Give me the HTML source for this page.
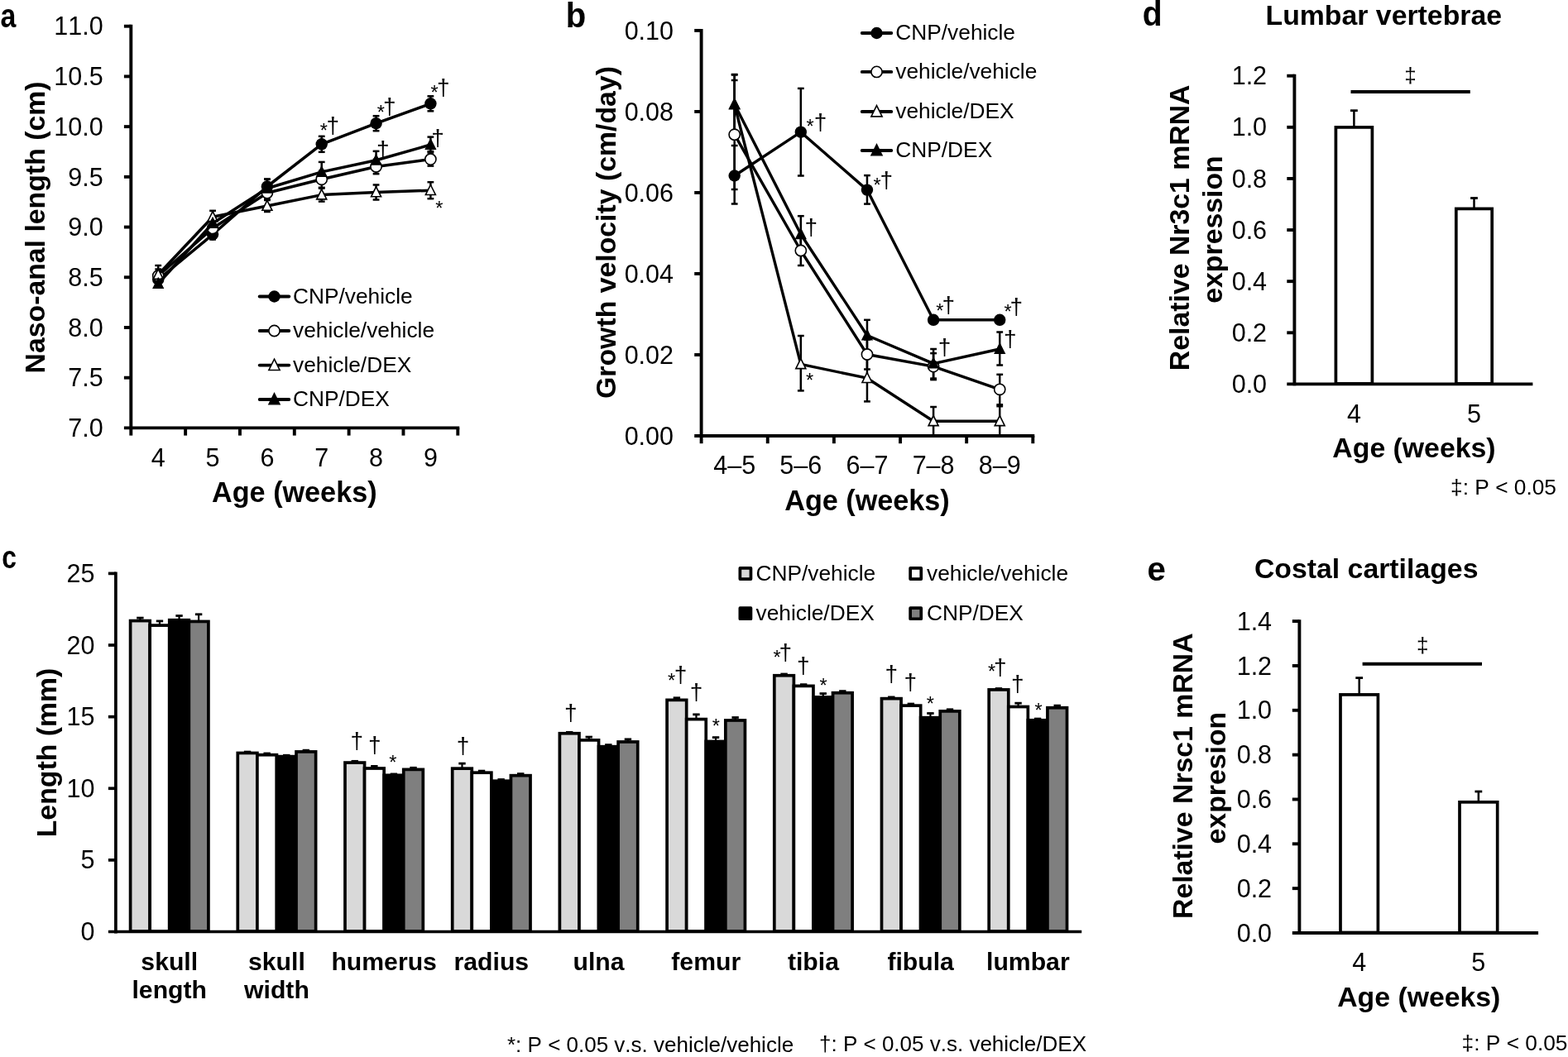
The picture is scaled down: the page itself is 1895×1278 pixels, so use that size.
<!DOCTYPE html>
<html lang="en"><head><meta charset="utf-8"><title>Figure</title>
<style>html,body{margin:0;padding:0;background:#fff}svg{display:block}text{font-family:"Liberation Sans", Arial, Helvetica, sans-serif;fill:#000;font-kerning:none}</style></head><body>
<svg width="1895" height="1278" viewBox="0 0 1895 1278">
<rect width="1895" height="1278" fill="#fff"/>
<g id="panel-a">
<line x1="158.30" y1="29.75" x2="158.30" y2="519.35" stroke="#000" stroke-width="3.9" stroke-linecap="butt"/>
<line x1="149.90" y1="517.40" x2="555.25" y2="517.40" stroke="#000" stroke-width="3.9" stroke-linecap="butt"/>
<line x1="149.90" y1="31.70" x2="158.30" y2="31.70" stroke="#000" stroke-width="3.9" stroke-linecap="butt"/>
<text x="124.70" y="42.40" font-size="30.5" text-anchor="end">11.0</text>
<line x1="149.90" y1="92.41" x2="158.30" y2="92.41" stroke="#000" stroke-width="3.9" stroke-linecap="butt"/>
<text x="124.70" y="103.11" font-size="30.5" text-anchor="end">10.5</text>
<line x1="149.90" y1="153.12" x2="158.30" y2="153.12" stroke="#000" stroke-width="3.9" stroke-linecap="butt"/>
<text x="124.70" y="163.82" font-size="30.5" text-anchor="end">10.0</text>
<line x1="149.90" y1="213.84" x2="158.30" y2="213.84" stroke="#000" stroke-width="3.9" stroke-linecap="butt"/>
<text x="124.70" y="224.54" font-size="30.5" text-anchor="end">9.5</text>
<line x1="149.90" y1="274.55" x2="158.30" y2="274.55" stroke="#000" stroke-width="3.9" stroke-linecap="butt"/>
<text x="124.70" y="285.25" font-size="30.5" text-anchor="end">9.0</text>
<line x1="149.90" y1="335.26" x2="158.30" y2="335.26" stroke="#000" stroke-width="3.9" stroke-linecap="butt"/>
<text x="124.70" y="345.96" font-size="30.5" text-anchor="end">8.5</text>
<line x1="149.90" y1="395.97" x2="158.30" y2="395.97" stroke="#000" stroke-width="3.9" stroke-linecap="butt"/>
<text x="124.70" y="406.67" font-size="30.5" text-anchor="end">8.0</text>
<line x1="149.90" y1="456.69" x2="158.30" y2="456.69" stroke="#000" stroke-width="3.9" stroke-linecap="butt"/>
<text x="124.70" y="467.39" font-size="30.5" text-anchor="end">7.5</text>
<text x="124.70" y="528.10" font-size="30.5" text-anchor="end">7.0</text>
<line x1="158.30" y1="517.40" x2="158.30" y2="526.60" stroke="#000" stroke-width="3.9" stroke-linecap="butt"/>
<line x1="224.13" y1="517.40" x2="224.13" y2="526.60" stroke="#000" stroke-width="3.9" stroke-linecap="butt"/>
<line x1="289.97" y1="517.40" x2="289.97" y2="526.60" stroke="#000" stroke-width="3.9" stroke-linecap="butt"/>
<line x1="355.80" y1="517.40" x2="355.80" y2="526.60" stroke="#000" stroke-width="3.9" stroke-linecap="butt"/>
<line x1="421.63" y1="517.40" x2="421.63" y2="526.60" stroke="#000" stroke-width="3.9" stroke-linecap="butt"/>
<line x1="487.47" y1="517.40" x2="487.47" y2="526.60" stroke="#000" stroke-width="3.9" stroke-linecap="butt"/>
<line x1="553.30" y1="517.40" x2="553.30" y2="526.60" stroke="#000" stroke-width="3.9" stroke-linecap="butt"/>
<text x="191.22" y="563.80" font-size="30.5" text-anchor="middle">4</text>
<text x="257.05" y="563.80" font-size="30.5" text-anchor="middle">5</text>
<text x="322.88" y="563.80" font-size="30.5" text-anchor="middle">6</text>
<text x="388.72" y="563.80" font-size="30.5" text-anchor="middle">7</text>
<text x="454.55" y="563.80" font-size="30.5" text-anchor="middle">8</text>
<text x="520.38" y="563.80" font-size="30.5" text-anchor="middle">9</text>
<text x="355.80" y="607.20" font-size="34.2" text-anchor="middle" font-weight="bold">Age (weeks)</text>
<text x="54.00" y="275.00" font-size="33.8" text-anchor="middle" font-weight="bold" transform="rotate(-90 54.00 275.00)">Naso-anal length (cm)</text>
<line x1="191.22" y1="330.00" x2="191.22" y2="346.00" stroke="#000" stroke-width="2.5" stroke-linecap="butt"/>
<line x1="187.32" y1="330.00" x2="195.12" y2="330.00" stroke="#000" stroke-width="2.5" stroke-linecap="butt"/>
<line x1="187.32" y1="346.00" x2="195.12" y2="346.00" stroke="#000" stroke-width="2.5" stroke-linecap="butt"/>
<line x1="257.05" y1="277.50" x2="257.05" y2="289.50" stroke="#000" stroke-width="2.5" stroke-linecap="butt"/>
<line x1="253.15" y1="277.50" x2="260.95" y2="277.50" stroke="#000" stroke-width="2.5" stroke-linecap="butt"/>
<line x1="253.15" y1="289.50" x2="260.95" y2="289.50" stroke="#000" stroke-width="2.5" stroke-linecap="butt"/>
<line x1="322.88" y1="216.50" x2="322.88" y2="234.50" stroke="#000" stroke-width="2.5" stroke-linecap="butt"/>
<line x1="318.98" y1="216.50" x2="326.78" y2="216.50" stroke="#000" stroke-width="2.5" stroke-linecap="butt"/>
<line x1="318.98" y1="234.50" x2="326.78" y2="234.50" stroke="#000" stroke-width="2.5" stroke-linecap="butt"/>
<line x1="388.72" y1="164.80" x2="388.72" y2="183.80" stroke="#000" stroke-width="2.5" stroke-linecap="butt"/>
<line x1="384.82" y1="164.80" x2="392.62" y2="164.80" stroke="#000" stroke-width="2.5" stroke-linecap="butt"/>
<line x1="384.82" y1="183.80" x2="392.62" y2="183.80" stroke="#000" stroke-width="2.5" stroke-linecap="butt"/>
<line x1="454.55" y1="140.20" x2="454.55" y2="158.20" stroke="#000" stroke-width="2.5" stroke-linecap="butt"/>
<line x1="450.65" y1="140.20" x2="458.45" y2="140.20" stroke="#000" stroke-width="2.5" stroke-linecap="butt"/>
<line x1="450.65" y1="158.20" x2="458.45" y2="158.20" stroke="#000" stroke-width="2.5" stroke-linecap="butt"/>
<line x1="520.38" y1="116.30" x2="520.38" y2="134.30" stroke="#000" stroke-width="2.5" stroke-linecap="butt"/>
<line x1="516.48" y1="116.30" x2="524.28" y2="116.30" stroke="#000" stroke-width="2.5" stroke-linecap="butt"/>
<line x1="516.48" y1="134.30" x2="524.28" y2="134.30" stroke="#000" stroke-width="2.5" stroke-linecap="butt"/>
<line x1="191.22" y1="325.50" x2="191.22" y2="341.50" stroke="#000" stroke-width="2.5" stroke-linecap="butt"/>
<line x1="187.32" y1="325.50" x2="195.12" y2="325.50" stroke="#000" stroke-width="2.5" stroke-linecap="butt"/>
<line x1="187.32" y1="341.50" x2="195.12" y2="341.50" stroke="#000" stroke-width="2.5" stroke-linecap="butt"/>
<line x1="257.05" y1="270.00" x2="257.05" y2="282.00" stroke="#000" stroke-width="2.5" stroke-linecap="butt"/>
<line x1="253.15" y1="270.00" x2="260.95" y2="270.00" stroke="#000" stroke-width="2.5" stroke-linecap="butt"/>
<line x1="253.15" y1="282.00" x2="260.95" y2="282.00" stroke="#000" stroke-width="2.5" stroke-linecap="butt"/>
<line x1="322.88" y1="225.20" x2="322.88" y2="241.20" stroke="#000" stroke-width="2.5" stroke-linecap="butt"/>
<line x1="318.98" y1="225.20" x2="326.78" y2="225.20" stroke="#000" stroke-width="2.5" stroke-linecap="butt"/>
<line x1="318.98" y1="241.20" x2="326.78" y2="241.20" stroke="#000" stroke-width="2.5" stroke-linecap="butt"/>
<line x1="388.72" y1="206.80" x2="388.72" y2="226.80" stroke="#000" stroke-width="2.5" stroke-linecap="butt"/>
<line x1="384.82" y1="206.80" x2="392.62" y2="206.80" stroke="#000" stroke-width="2.5" stroke-linecap="butt"/>
<line x1="384.82" y1="226.80" x2="392.62" y2="226.80" stroke="#000" stroke-width="2.5" stroke-linecap="butt"/>
<line x1="454.55" y1="192.80" x2="454.55" y2="210.20" stroke="#000" stroke-width="2.5" stroke-linecap="butt"/>
<line x1="450.65" y1="192.80" x2="458.45" y2="192.80" stroke="#000" stroke-width="2.5" stroke-linecap="butt"/>
<line x1="450.65" y1="210.20" x2="458.45" y2="210.20" stroke="#000" stroke-width="2.5" stroke-linecap="butt"/>
<line x1="520.38" y1="184.60" x2="520.38" y2="200.60" stroke="#000" stroke-width="2.5" stroke-linecap="butt"/>
<line x1="516.48" y1="184.60" x2="524.28" y2="184.60" stroke="#000" stroke-width="2.5" stroke-linecap="butt"/>
<line x1="516.48" y1="200.60" x2="524.28" y2="200.60" stroke="#000" stroke-width="2.5" stroke-linecap="butt"/>
<line x1="191.22" y1="321.00" x2="191.22" y2="340.00" stroke="#000" stroke-width="2.5" stroke-linecap="butt"/>
<line x1="187.32" y1="321.00" x2="195.12" y2="321.00" stroke="#000" stroke-width="2.5" stroke-linecap="butt"/>
<line x1="187.32" y1="340.00" x2="195.12" y2="340.00" stroke="#000" stroke-width="2.5" stroke-linecap="butt"/>
<line x1="257.05" y1="254.80" x2="257.05" y2="269.80" stroke="#000" stroke-width="2.5" stroke-linecap="butt"/>
<line x1="253.15" y1="254.80" x2="260.95" y2="254.80" stroke="#000" stroke-width="2.5" stroke-linecap="butt"/>
<line x1="253.15" y1="269.80" x2="260.95" y2="269.80" stroke="#000" stroke-width="2.5" stroke-linecap="butt"/>
<line x1="322.88" y1="242.00" x2="322.88" y2="256.00" stroke="#000" stroke-width="2.5" stroke-linecap="butt"/>
<line x1="318.98" y1="242.00" x2="326.78" y2="242.00" stroke="#000" stroke-width="2.5" stroke-linecap="butt"/>
<line x1="318.98" y1="256.00" x2="326.78" y2="256.00" stroke="#000" stroke-width="2.5" stroke-linecap="butt"/>
<line x1="388.72" y1="227.60" x2="388.72" y2="243.60" stroke="#000" stroke-width="2.5" stroke-linecap="butt"/>
<line x1="384.82" y1="227.60" x2="392.62" y2="227.60" stroke="#000" stroke-width="2.5" stroke-linecap="butt"/>
<line x1="384.82" y1="243.60" x2="392.62" y2="243.60" stroke="#000" stroke-width="2.5" stroke-linecap="butt"/>
<line x1="454.55" y1="223.50" x2="454.55" y2="241.50" stroke="#000" stroke-width="2.5" stroke-linecap="butt"/>
<line x1="450.65" y1="223.50" x2="458.45" y2="223.50" stroke="#000" stroke-width="2.5" stroke-linecap="butt"/>
<line x1="450.65" y1="241.50" x2="458.45" y2="241.50" stroke="#000" stroke-width="2.5" stroke-linecap="butt"/>
<line x1="520.38" y1="220.20" x2="520.38" y2="240.20" stroke="#000" stroke-width="2.5" stroke-linecap="butt"/>
<line x1="516.48" y1="220.20" x2="524.28" y2="220.20" stroke="#000" stroke-width="2.5" stroke-linecap="butt"/>
<line x1="516.48" y1="240.20" x2="524.28" y2="240.20" stroke="#000" stroke-width="2.5" stroke-linecap="butt"/>
<line x1="191.22" y1="336.00" x2="191.22" y2="347.00" stroke="#000" stroke-width="2.5" stroke-linecap="butt"/>
<line x1="187.32" y1="336.00" x2="195.12" y2="336.00" stroke="#000" stroke-width="2.5" stroke-linecap="butt"/>
<line x1="187.32" y1="347.00" x2="195.12" y2="347.00" stroke="#000" stroke-width="2.5" stroke-linecap="butt"/>
<line x1="257.05" y1="264.00" x2="257.05" y2="276.00" stroke="#000" stroke-width="2.5" stroke-linecap="butt"/>
<line x1="253.15" y1="264.00" x2="260.95" y2="264.00" stroke="#000" stroke-width="2.5" stroke-linecap="butt"/>
<line x1="253.15" y1="276.00" x2="260.95" y2="276.00" stroke="#000" stroke-width="2.5" stroke-linecap="butt"/>
<line x1="322.88" y1="216.80" x2="322.88" y2="235.80" stroke="#000" stroke-width="2.5" stroke-linecap="butt"/>
<line x1="318.98" y1="216.80" x2="326.78" y2="216.80" stroke="#000" stroke-width="2.5" stroke-linecap="butt"/>
<line x1="318.98" y1="235.80" x2="326.78" y2="235.80" stroke="#000" stroke-width="2.5" stroke-linecap="butt"/>
<line x1="388.72" y1="195.90" x2="388.72" y2="215.90" stroke="#000" stroke-width="2.5" stroke-linecap="butt"/>
<line x1="384.82" y1="195.90" x2="392.62" y2="195.90" stroke="#000" stroke-width="2.5" stroke-linecap="butt"/>
<line x1="384.82" y1="215.90" x2="392.62" y2="215.90" stroke="#000" stroke-width="2.5" stroke-linecap="butt"/>
<line x1="454.55" y1="182.80" x2="454.55" y2="201.80" stroke="#000" stroke-width="2.5" stroke-linecap="butt"/>
<line x1="450.65" y1="182.80" x2="458.45" y2="182.80" stroke="#000" stroke-width="2.5" stroke-linecap="butt"/>
<line x1="450.65" y1="201.80" x2="458.45" y2="201.80" stroke="#000" stroke-width="2.5" stroke-linecap="butt"/>
<line x1="520.38" y1="165.60" x2="520.38" y2="183.00" stroke="#000" stroke-width="2.5" stroke-linecap="butt"/>
<line x1="516.48" y1="165.60" x2="524.28" y2="165.60" stroke="#000" stroke-width="2.5" stroke-linecap="butt"/>
<line x1="516.48" y1="183.00" x2="524.28" y2="183.00" stroke="#000" stroke-width="2.5" stroke-linecap="butt"/>
<polyline points="191.22,338.00 257.05,283.50 322.88,225.50 388.72,174.30 454.55,149.20 520.38,125.30" fill="none" stroke="#000" stroke-width="3.5" stroke-linejoin="round" stroke-linecap="round"/>
<circle cx="191.22" cy="338.00" r="7.20" fill="#000"/>
<circle cx="257.05" cy="283.50" r="7.20" fill="#000"/>
<circle cx="322.88" cy="225.50" r="7.20" fill="#000"/>
<circle cx="388.72" cy="174.30" r="7.20" fill="#000"/>
<circle cx="454.55" cy="149.20" r="7.20" fill="#000"/>
<circle cx="520.38" cy="125.30" r="7.20" fill="#000"/>
<polyline points="191.22,333.50 257.05,276.00 322.88,233.20 388.72,216.80 454.55,201.50 520.38,192.60" fill="none" stroke="#000" stroke-width="3.5" stroke-linejoin="round" stroke-linecap="round"/>
<circle cx="191.22" cy="333.50" r="6.60" fill="#fff" stroke="#000" stroke-width="1.6"/>
<circle cx="257.05" cy="276.00" r="6.60" fill="#fff" stroke="#000" stroke-width="1.6"/>
<circle cx="322.88" cy="233.20" r="6.60" fill="#fff" stroke="#000" stroke-width="1.6"/>
<circle cx="388.72" cy="216.80" r="6.60" fill="#fff" stroke="#000" stroke-width="1.6"/>
<circle cx="454.55" cy="201.50" r="6.60" fill="#fff" stroke="#000" stroke-width="1.6"/>
<circle cx="520.38" cy="192.60" r="6.60" fill="#fff" stroke="#000" stroke-width="1.6"/>
<polyline points="191.22,332.00 257.05,262.30 322.88,249.00 388.72,235.60 454.55,232.50 520.38,230.20" fill="none" stroke="#000" stroke-width="3.5" stroke-linejoin="round" stroke-linecap="round"/>
<polygon points="191.22,325.30 197.22,337.30 185.22,337.30" fill="#fff" stroke="#000" stroke-width="1.6" stroke-linejoin="miter"/>
<polygon points="257.05,255.60 263.05,267.60 251.05,267.60" fill="#fff" stroke="#000" stroke-width="1.6" stroke-linejoin="miter"/>
<polygon points="322.88,242.30 328.88,254.30 316.88,254.30" fill="#fff" stroke="#000" stroke-width="1.6" stroke-linejoin="miter"/>
<polygon points="388.72,228.90 394.72,240.90 382.72,240.90" fill="#fff" stroke="#000" stroke-width="1.6" stroke-linejoin="miter"/>
<polygon points="454.55,225.80 460.55,237.80 448.55,237.80" fill="#fff" stroke="#000" stroke-width="1.6" stroke-linejoin="miter"/>
<polygon points="520.38,223.50 526.38,235.50 514.38,235.50" fill="#fff" stroke="#000" stroke-width="1.6" stroke-linejoin="miter"/>
<polyline points="191.22,343.00 257.05,270.00 322.88,227.80 388.72,207.90 454.55,193.80 520.38,175.00" fill="none" stroke="#000" stroke-width="3.5" stroke-linejoin="round" stroke-linecap="round"/>
<polygon points="191.22,336.30 197.22,348.30 185.22,348.30" fill="#000" stroke="#000" stroke-width="1.4" stroke-linejoin="miter"/>
<polygon points="257.05,263.30 263.05,275.30 251.05,275.30" fill="#000" stroke="#000" stroke-width="1.4" stroke-linejoin="miter"/>
<polygon points="322.88,221.10 328.88,233.10 316.88,233.10" fill="#000" stroke="#000" stroke-width="1.4" stroke-linejoin="miter"/>
<polygon points="388.72,201.20 394.72,213.20 382.72,213.20" fill="#000" stroke="#000" stroke-width="1.4" stroke-linejoin="miter"/>
<polygon points="454.55,187.10 460.55,199.10 448.55,199.10" fill="#000" stroke="#000" stroke-width="1.4" stroke-linejoin="miter"/>
<polygon points="520.38,168.30 526.38,180.30 514.38,180.30" fill="#000" stroke="#000" stroke-width="1.4" stroke-linejoin="miter"/>
<line x1="313.70" y1="358.50" x2="349.30" y2="358.50" stroke="#000" stroke-width="3.8" stroke-linecap="round"/>
<circle cx="331.50" cy="358.50" r="7.20" fill="#000"/>
<text x="354.00" y="366.70" font-size="26.3" text-anchor="start">CNP/vehicle</text>
<line x1="313.70" y1="400.00" x2="349.30" y2="400.00" stroke="#000" stroke-width="3.8" stroke-linecap="round"/>
<circle cx="331.50" cy="400.00" r="6.60" fill="#fff" stroke="#000" stroke-width="1.6"/>
<text x="354.00" y="408.20" font-size="26.3" text-anchor="start">vehicle/vehicle</text>
<line x1="313.70" y1="441.60" x2="349.30" y2="441.60" stroke="#000" stroke-width="3.8" stroke-linecap="round"/>
<polygon points="331.50,434.23 338.10,447.43 324.90,447.43" fill="#fff" stroke="#000" stroke-width="1.6" stroke-linejoin="miter"/>
<text x="354.00" y="449.80" font-size="26.3" text-anchor="start">vehicle/DEX</text>
<line x1="313.70" y1="483.00" x2="349.30" y2="483.00" stroke="#000" stroke-width="3.8" stroke-linecap="round"/>
<polygon points="331.50,475.63 338.10,488.83 324.90,488.83" fill="#000" stroke="#000" stroke-width="1.4" stroke-linejoin="miter"/>
<text x="354.00" y="491.20" font-size="26.3" text-anchor="start">CNP/DEX</text>
<text x="391.30" y="165.94" font-size="23.5" text-anchor="middle">*</text>
<text x="402.30" y="161.30" font-size="28" text-anchor="middle">†</text>
<text x="460.30" y="143.64" font-size="23.5" text-anchor="middle">*</text>
<text x="470.90" y="138.20" font-size="28" text-anchor="middle">†</text>
<text x="525.10" y="120.14" font-size="23.5" text-anchor="middle">*</text>
<text x="535.70" y="115.00" font-size="28" text-anchor="middle">†</text>
<text x="462.90" y="190.10" font-size="28" text-anchor="middle">†</text>
<text x="529.10" y="175.80" font-size="28" text-anchor="middle">†</text>
<text x="530.80" y="259.84" font-size="23.5" text-anchor="middle">*</text>
<text transform="translate(0.51 33.11) scale(0.853 1)" font-size="39.79" font-weight="bold">a</text>
</g>
<g id="panel-b">
<line x1="847.60" y1="34.95" x2="847.60" y2="528.95" stroke="#000" stroke-width="3.9" stroke-linecap="butt"/>
<line x1="839.20" y1="527.00" x2="1250.25" y2="527.00" stroke="#000" stroke-width="3.9" stroke-linecap="butt"/>
<line x1="839.20" y1="36.90" x2="847.60" y2="36.90" stroke="#000" stroke-width="3.9" stroke-linecap="butt"/>
<text x="814.00" y="47.60" font-size="30.5" text-anchor="end">0.10</text>
<line x1="839.20" y1="134.92" x2="847.60" y2="134.92" stroke="#000" stroke-width="3.9" stroke-linecap="butt"/>
<text x="814.00" y="145.62" font-size="30.5" text-anchor="end">0.08</text>
<line x1="839.20" y1="232.94" x2="847.60" y2="232.94" stroke="#000" stroke-width="3.9" stroke-linecap="butt"/>
<text x="814.00" y="243.64" font-size="30.5" text-anchor="end">0.06</text>
<line x1="839.20" y1="330.96" x2="847.60" y2="330.96" stroke="#000" stroke-width="3.9" stroke-linecap="butt"/>
<text x="814.00" y="341.66" font-size="30.5" text-anchor="end">0.04</text>
<line x1="839.20" y1="428.98" x2="847.60" y2="428.98" stroke="#000" stroke-width="3.9" stroke-linecap="butt"/>
<text x="814.00" y="439.68" font-size="30.5" text-anchor="end">0.02</text>
<text x="814.00" y="537.70" font-size="30.5" text-anchor="end">0.00</text>
<line x1="847.60" y1="527.00" x2="847.60" y2="536.20" stroke="#000" stroke-width="3.9" stroke-linecap="butt"/>
<line x1="927.74" y1="527.00" x2="927.74" y2="536.20" stroke="#000" stroke-width="3.9" stroke-linecap="butt"/>
<line x1="1007.88" y1="527.00" x2="1007.88" y2="536.20" stroke="#000" stroke-width="3.9" stroke-linecap="butt"/>
<line x1="1088.02" y1="527.00" x2="1088.02" y2="536.20" stroke="#000" stroke-width="3.9" stroke-linecap="butt"/>
<line x1="1168.16" y1="527.00" x2="1168.16" y2="536.20" stroke="#000" stroke-width="3.9" stroke-linecap="butt"/>
<line x1="1248.30" y1="527.00" x2="1248.30" y2="536.20" stroke="#000" stroke-width="3.9" stroke-linecap="butt"/>
<text x="887.67" y="573.40" font-size="30.5" text-anchor="middle">4–5</text>
<text x="967.81" y="573.40" font-size="30.5" text-anchor="middle">5–6</text>
<text x="1047.95" y="573.40" font-size="30.5" text-anchor="middle">6–7</text>
<text x="1128.09" y="573.40" font-size="30.5" text-anchor="middle">7–8</text>
<text x="1208.23" y="573.40" font-size="30.5" text-anchor="middle">8–9</text>
<text x="1047.95" y="616.80" font-size="34.2" text-anchor="middle" font-weight="bold">Age (weeks)</text>
<text x="743.70" y="281.00" font-size="33.8" text-anchor="middle" font-weight="bold" transform="rotate(-90 743.70 281.00)">Growth velocity (cm/day)</text>
<line x1="887.67" y1="176.00" x2="887.67" y2="246.50" stroke="#000" stroke-width="2.5" stroke-linecap="butt"/>
<line x1="883.77" y1="176.00" x2="891.57" y2="176.00" stroke="#000" stroke-width="2.5" stroke-linecap="butt"/>
<line x1="883.77" y1="246.50" x2="891.57" y2="246.50" stroke="#000" stroke-width="2.5" stroke-linecap="butt"/>
<line x1="967.81" y1="106.90" x2="967.81" y2="212.50" stroke="#000" stroke-width="2.5" stroke-linecap="butt"/>
<line x1="963.91" y1="106.90" x2="971.71" y2="106.90" stroke="#000" stroke-width="2.5" stroke-linecap="butt"/>
<line x1="963.91" y1="212.50" x2="971.71" y2="212.50" stroke="#000" stroke-width="2.5" stroke-linecap="butt"/>
<line x1="1047.95" y1="212.10" x2="1047.95" y2="246.60" stroke="#000" stroke-width="2.5" stroke-linecap="butt"/>
<line x1="1044.05" y1="212.10" x2="1051.85" y2="212.10" stroke="#000" stroke-width="2.5" stroke-linecap="butt"/>
<line x1="1044.05" y1="246.60" x2="1051.85" y2="246.60" stroke="#000" stroke-width="2.5" stroke-linecap="butt"/>
<line x1="887.67" y1="97.00" x2="887.67" y2="229.00" stroke="#000" stroke-width="2.5" stroke-linecap="butt"/>
<line x1="883.77" y1="97.00" x2="891.57" y2="97.00" stroke="#000" stroke-width="2.5" stroke-linecap="butt"/>
<line x1="883.77" y1="229.00" x2="891.57" y2="229.00" stroke="#000" stroke-width="2.5" stroke-linecap="butt"/>
<line x1="967.81" y1="285.00" x2="967.81" y2="321.00" stroke="#000" stroke-width="2.5" stroke-linecap="butt"/>
<line x1="963.91" y1="285.00" x2="971.71" y2="285.00" stroke="#000" stroke-width="2.5" stroke-linecap="butt"/>
<line x1="963.91" y1="321.00" x2="971.71" y2="321.00" stroke="#000" stroke-width="2.5" stroke-linecap="butt"/>
<line x1="1047.95" y1="410.50" x2="1047.95" y2="446.50" stroke="#000" stroke-width="2.5" stroke-linecap="butt"/>
<line x1="1044.05" y1="410.50" x2="1051.85" y2="410.50" stroke="#000" stroke-width="2.5" stroke-linecap="butt"/>
<line x1="1044.05" y1="446.50" x2="1051.85" y2="446.50" stroke="#000" stroke-width="2.5" stroke-linecap="butt"/>
<line x1="1128.09" y1="427.10" x2="1128.09" y2="459.10" stroke="#000" stroke-width="2.5" stroke-linecap="butt"/>
<line x1="1124.19" y1="427.10" x2="1131.99" y2="427.10" stroke="#000" stroke-width="2.5" stroke-linecap="butt"/>
<line x1="1124.19" y1="459.10" x2="1131.99" y2="459.10" stroke="#000" stroke-width="2.5" stroke-linecap="butt"/>
<line x1="1208.23" y1="452.80" x2="1208.23" y2="491.20" stroke="#000" stroke-width="2.5" stroke-linecap="butt"/>
<line x1="1204.33" y1="452.80" x2="1212.13" y2="452.80" stroke="#000" stroke-width="2.5" stroke-linecap="butt"/>
<line x1="1204.33" y1="491.20" x2="1212.13" y2="491.20" stroke="#000" stroke-width="2.5" stroke-linecap="butt"/>
<line x1="887.67" y1="90.50" x2="887.67" y2="162.50" stroke="#000" stroke-width="2.5" stroke-linecap="butt"/>
<line x1="883.77" y1="90.50" x2="891.57" y2="90.50" stroke="#000" stroke-width="2.5" stroke-linecap="butt"/>
<line x1="883.77" y1="162.50" x2="891.57" y2="162.50" stroke="#000" stroke-width="2.5" stroke-linecap="butt"/>
<line x1="967.81" y1="406.00" x2="967.81" y2="472.40" stroke="#000" stroke-width="2.5" stroke-linecap="butt"/>
<line x1="963.91" y1="406.00" x2="971.71" y2="406.00" stroke="#000" stroke-width="2.5" stroke-linecap="butt"/>
<line x1="963.91" y1="472.40" x2="971.71" y2="472.40" stroke="#000" stroke-width="2.5" stroke-linecap="butt"/>
<line x1="1047.95" y1="429.20" x2="1047.95" y2="485.40" stroke="#000" stroke-width="2.5" stroke-linecap="butt"/>
<line x1="1044.05" y1="429.20" x2="1051.85" y2="429.20" stroke="#000" stroke-width="2.5" stroke-linecap="butt"/>
<line x1="1044.05" y1="485.40" x2="1051.85" y2="485.40" stroke="#000" stroke-width="2.5" stroke-linecap="butt"/>
<line x1="1128.09" y1="492.00" x2="1128.09" y2="527.00" stroke="#000" stroke-width="2.5" stroke-linecap="butt"/>
<line x1="1124.19" y1="492.00" x2="1131.99" y2="492.00" stroke="#000" stroke-width="2.5" stroke-linecap="butt"/>
<line x1="1124.19" y1="527.00" x2="1131.99" y2="527.00" stroke="#000" stroke-width="2.5" stroke-linecap="butt"/>
<line x1="1208.23" y1="489.30" x2="1208.23" y2="527.00" stroke="#000" stroke-width="2.5" stroke-linecap="butt"/>
<line x1="1204.33" y1="489.30" x2="1212.13" y2="489.30" stroke="#000" stroke-width="2.5" stroke-linecap="butt"/>
<line x1="1204.33" y1="527.00" x2="1212.13" y2="527.00" stroke="#000" stroke-width="2.5" stroke-linecap="butt"/>
<line x1="887.67" y1="90.00" x2="887.67" y2="162.00" stroke="#000" stroke-width="2.5" stroke-linecap="butt"/>
<line x1="883.77" y1="90.00" x2="891.57" y2="90.00" stroke="#000" stroke-width="2.5" stroke-linecap="butt"/>
<line x1="883.77" y1="162.00" x2="891.57" y2="162.00" stroke="#000" stroke-width="2.5" stroke-linecap="butt"/>
<line x1="967.81" y1="261.20" x2="967.81" y2="305.20" stroke="#000" stroke-width="2.5" stroke-linecap="butt"/>
<line x1="963.91" y1="261.20" x2="971.71" y2="261.20" stroke="#000" stroke-width="2.5" stroke-linecap="butt"/>
<line x1="963.91" y1="305.20" x2="971.71" y2="305.20" stroke="#000" stroke-width="2.5" stroke-linecap="butt"/>
<line x1="1047.95" y1="386.80" x2="1047.95" y2="423.50" stroke="#000" stroke-width="2.5" stroke-linecap="butt"/>
<line x1="1044.05" y1="386.80" x2="1051.85" y2="386.80" stroke="#000" stroke-width="2.5" stroke-linecap="butt"/>
<line x1="1044.05" y1="423.50" x2="1051.85" y2="423.50" stroke="#000" stroke-width="2.5" stroke-linecap="butt"/>
<line x1="1128.09" y1="422.00" x2="1128.09" y2="457.60" stroke="#000" stroke-width="2.5" stroke-linecap="butt"/>
<line x1="1124.19" y1="422.00" x2="1131.99" y2="422.00" stroke="#000" stroke-width="2.5" stroke-linecap="butt"/>
<line x1="1124.19" y1="457.60" x2="1131.99" y2="457.60" stroke="#000" stroke-width="2.5" stroke-linecap="butt"/>
<line x1="1208.23" y1="401.50" x2="1208.23" y2="441.50" stroke="#000" stroke-width="2.5" stroke-linecap="butt"/>
<line x1="1204.33" y1="401.50" x2="1212.13" y2="401.50" stroke="#000" stroke-width="2.5" stroke-linecap="butt"/>
<line x1="1204.33" y1="441.50" x2="1212.13" y2="441.50" stroke="#000" stroke-width="2.5" stroke-linecap="butt"/>
<polyline points="887.67,212.50 967.81,159.70 1047.95,229.60 1128.09,386.80 1208.23,386.80" fill="none" stroke="#000" stroke-width="3.4" stroke-linejoin="round" stroke-linecap="round"/>
<circle cx="887.67" cy="212.50" r="7.20" fill="#000"/>
<circle cx="967.81" cy="159.70" r="7.20" fill="#000"/>
<circle cx="1047.95" cy="229.60" r="7.20" fill="#000"/>
<circle cx="1128.09" cy="386.80" r="7.20" fill="#000"/>
<circle cx="1208.23" cy="386.80" r="7.20" fill="#000"/>
<polyline points="887.67,162.70 967.81,303.00 1047.95,428.50 1128.09,443.10 1208.23,470.80" fill="none" stroke="#000" stroke-width="3.4" stroke-linejoin="round" stroke-linecap="round"/>
<circle cx="887.67" cy="162.70" r="6.60" fill="#fff" stroke="#000" stroke-width="1.6"/>
<circle cx="967.81" cy="303.00" r="6.60" fill="#fff" stroke="#000" stroke-width="1.6"/>
<circle cx="1047.95" cy="428.50" r="6.60" fill="#fff" stroke="#000" stroke-width="1.6"/>
<circle cx="1128.09" cy="443.10" r="6.60" fill="#fff" stroke="#000" stroke-width="1.6"/>
<circle cx="1208.23" cy="470.80" r="6.60" fill="#fff" stroke="#000" stroke-width="1.6"/>
<polyline points="887.67,126.50 967.81,440.30 1047.95,457.20 1128.09,509.30 1208.23,509.30" fill="none" stroke="#000" stroke-width="3.4" stroke-linejoin="round" stroke-linecap="round"/>
<polygon points="887.67,119.80 893.67,131.80 881.67,131.80" fill="#fff" stroke="#000" stroke-width="1.6" stroke-linejoin="miter"/>
<polygon points="967.81,433.60 973.81,445.60 961.81,445.60" fill="#fff" stroke="#000" stroke-width="1.6" stroke-linejoin="miter"/>
<polygon points="1047.95,450.50 1053.95,462.50 1041.95,462.50" fill="#fff" stroke="#000" stroke-width="1.6" stroke-linejoin="miter"/>
<polygon points="1128.09,502.60 1134.09,514.60 1122.09,514.60" fill="#fff" stroke="#000" stroke-width="1.6" stroke-linejoin="miter"/>
<polygon points="1208.23,502.60 1214.23,514.60 1202.23,514.60" fill="#fff" stroke="#000" stroke-width="1.6" stroke-linejoin="miter"/>
<polyline points="887.67,126.00 967.81,283.20 1047.95,405.50 1128.09,439.60 1208.23,422.00" fill="none" stroke="#000" stroke-width="3.4" stroke-linejoin="round" stroke-linecap="round"/>
<polygon points="887.67,119.30 893.67,131.30 881.67,131.30" fill="#000" stroke="#000" stroke-width="1.4" stroke-linejoin="miter"/>
<polygon points="967.81,276.50 973.81,288.50 961.81,288.50" fill="#000" stroke="#000" stroke-width="1.4" stroke-linejoin="miter"/>
<polygon points="1047.95,398.80 1053.95,410.80 1041.95,410.80" fill="#000" stroke="#000" stroke-width="1.4" stroke-linejoin="miter"/>
<polygon points="1128.09,432.90 1134.09,444.90 1122.09,444.90" fill="#000" stroke="#000" stroke-width="1.4" stroke-linejoin="miter"/>
<polygon points="1208.23,415.30 1214.23,427.30 1202.23,427.30" fill="#000" stroke="#000" stroke-width="1.4" stroke-linejoin="miter"/>
<line x1="1041.70" y1="40.00" x2="1077.30" y2="40.00" stroke="#000" stroke-width="3.8" stroke-linecap="round"/>
<circle cx="1059.50" cy="40.00" r="7.20" fill="#000"/>
<text x="1082.30" y="48.20" font-size="26.3" text-anchor="start">CNP/vehicle</text>
<line x1="1041.70" y1="86.90" x2="1077.30" y2="86.90" stroke="#000" stroke-width="3.8" stroke-linecap="round"/>
<circle cx="1059.50" cy="86.90" r="6.60" fill="#fff" stroke="#000" stroke-width="1.6"/>
<text x="1082.30" y="95.10" font-size="26.3" text-anchor="start">vehicle/vehicle</text>
<line x1="1041.70" y1="135.00" x2="1077.30" y2="135.00" stroke="#000" stroke-width="3.8" stroke-linecap="round"/>
<polygon points="1059.50,127.63 1066.10,140.83 1052.90,140.83" fill="#fff" stroke="#000" stroke-width="1.6" stroke-linejoin="miter"/>
<text x="1082.30" y="143.20" font-size="26.3" text-anchor="start">vehicle/DEX</text>
<line x1="1041.70" y1="182.00" x2="1077.30" y2="182.00" stroke="#000" stroke-width="3.8" stroke-linecap="round"/>
<polygon points="1059.50,174.63 1066.10,187.83 1052.90,187.83" fill="#000" stroke="#000" stroke-width="1.4" stroke-linejoin="miter"/>
<text x="1082.30" y="190.20" font-size="26.3" text-anchor="start">CNP/DEX</text>
<text x="979.10" y="161.14" font-size="23.5" text-anchor="middle">*</text>
<text x="991.50" y="156.90" font-size="28" text-anchor="middle">†</text>
<text x="1060.00" y="231.54" font-size="23.5" text-anchor="middle">*</text>
<text x="1071.30" y="226.70" font-size="28" text-anchor="middle">†</text>
<text x="980.20" y="283.90" font-size="28" text-anchor="middle">†</text>
<text x="1135.90" y="383.54" font-size="23.5" text-anchor="middle">*</text>
<text x="1146.40" y="378.10" font-size="28" text-anchor="middle">†</text>
<text x="1218.00" y="385.44" font-size="23.5" text-anchor="middle">*</text>
<text x="1228.40" y="379.90" font-size="28" text-anchor="middle">†</text>
<text x="1141.50" y="429.40" font-size="28" text-anchor="middle">†</text>
<text x="1220.80" y="419.40" font-size="28" text-anchor="middle">†</text>
<text x="978.60" y="468.04" font-size="23.5" text-anchor="middle">*</text>
<text transform="translate(683.76 33.09) scale(0.947 1)" font-size="42.35" font-weight="bold">b</text>
</g>
<g id="panel-c">
<line x1="169.38" y1="750.57" x2="169.38" y2="747.10" stroke="#000" stroke-width="2.2" stroke-linecap="butt"/>
<line x1="165.18" y1="747.10" x2="173.58" y2="747.10" stroke="#000" stroke-width="2.8" stroke-linecap="butt"/>
<rect x="157.59" y="750.57" width="23.58" height="375.43" fill="#d9d9d9" stroke="#000" stroke-width="3.7"/>
<line x1="192.96" y1="756.11" x2="192.96" y2="750.92" stroke="#000" stroke-width="2.2" stroke-linecap="butt"/>
<line x1="188.76" y1="750.92" x2="197.16" y2="750.92" stroke="#000" stroke-width="2.8" stroke-linecap="butt"/>
<rect x="181.17" y="756.11" width="23.58" height="369.89" fill="#ffffff" stroke="#000" stroke-width="3.7"/>
<line x1="216.54" y1="749.70" x2="216.54" y2="744.51" stroke="#000" stroke-width="2.2" stroke-linecap="butt"/>
<line x1="212.34" y1="744.51" x2="220.74" y2="744.51" stroke="#000" stroke-width="2.8" stroke-linecap="butt"/>
<rect x="204.75" y="749.70" width="23.58" height="376.30" fill="#000000" stroke="#000" stroke-width="3.7"/>
<line x1="240.12" y1="751.44" x2="240.12" y2="742.77" stroke="#000" stroke-width="2.2" stroke-linecap="butt"/>
<line x1="235.92" y1="742.77" x2="244.32" y2="742.77" stroke="#000" stroke-width="2.8" stroke-linecap="butt"/>
<rect x="228.33" y="751.44" width="23.58" height="374.56" fill="#7f7f7f" stroke="#000" stroke-width="3.7"/>
<text x="204.75" y="1173.00" font-size="30.2" text-anchor="middle" font-weight="bold">skull</text>
<text x="204.75" y="1206.80" font-size="30.2" text-anchor="middle" font-weight="bold">length</text>
<line x1="299.08" y1="910.47" x2="299.08" y2="909.08" stroke="#000" stroke-width="2.2" stroke-linecap="butt"/>
<line x1="294.88" y1="909.08" x2="303.28" y2="909.08" stroke="#000" stroke-width="2.8" stroke-linecap="butt"/>
<rect x="287.29" y="910.47" width="23.58" height="215.53" fill="#d9d9d9" stroke="#000" stroke-width="3.7"/>
<line x1="322.66" y1="912.72" x2="322.66" y2="910.99" stroke="#000" stroke-width="2.2" stroke-linecap="butt"/>
<line x1="318.46" y1="910.99" x2="326.86" y2="910.99" stroke="#000" stroke-width="2.8" stroke-linecap="butt"/>
<rect x="310.87" y="912.72" width="23.58" height="213.28" fill="#ffffff" stroke="#000" stroke-width="3.7"/>
<line x1="346.24" y1="914.63" x2="346.24" y2="913.24" stroke="#000" stroke-width="2.2" stroke-linecap="butt"/>
<line x1="342.04" y1="913.24" x2="350.44" y2="913.24" stroke="#000" stroke-width="2.8" stroke-linecap="butt"/>
<rect x="334.45" y="914.63" width="23.58" height="211.37" fill="#000000" stroke="#000" stroke-width="3.7"/>
<line x1="369.82" y1="908.91" x2="369.82" y2="907.18" stroke="#000" stroke-width="2.2" stroke-linecap="butt"/>
<line x1="365.62" y1="907.18" x2="374.02" y2="907.18" stroke="#000" stroke-width="2.8" stroke-linecap="butt"/>
<rect x="358.03" y="908.91" width="23.58" height="217.09" fill="#7f7f7f" stroke="#000" stroke-width="3.7"/>
<text x="334.45" y="1173.00" font-size="30.2" text-anchor="middle" font-weight="bold">skull</text>
<text x="334.45" y="1206.80" font-size="30.2" text-anchor="middle" font-weight="bold">width</text>
<line x1="428.78" y1="922.08" x2="428.78" y2="920.34" stroke="#000" stroke-width="2.2" stroke-linecap="butt"/>
<line x1="424.58" y1="920.34" x2="432.98" y2="920.34" stroke="#000" stroke-width="2.8" stroke-linecap="butt"/>
<rect x="416.99" y="922.08" width="23.58" height="203.92" fill="#d9d9d9" stroke="#000" stroke-width="3.7"/>
<line x1="452.36" y1="929.01" x2="452.36" y2="926.41" stroke="#000" stroke-width="2.2" stroke-linecap="butt"/>
<line x1="448.16" y1="926.41" x2="456.56" y2="926.41" stroke="#000" stroke-width="2.8" stroke-linecap="butt"/>
<rect x="440.57" y="929.01" width="23.58" height="196.99" fill="#ffffff" stroke="#000" stroke-width="3.7"/>
<line x1="475.94" y1="937.32" x2="475.94" y2="935.94" stroke="#000" stroke-width="2.2" stroke-linecap="butt"/>
<line x1="471.74" y1="935.94" x2="480.14" y2="935.94" stroke="#000" stroke-width="2.8" stroke-linecap="butt"/>
<rect x="464.15" y="937.32" width="23.58" height="188.68" fill="#000000" stroke="#000" stroke-width="3.7"/>
<line x1="499.52" y1="930.39" x2="499.52" y2="928.31" stroke="#000" stroke-width="2.2" stroke-linecap="butt"/>
<line x1="495.32" y1="928.31" x2="503.72" y2="928.31" stroke="#000" stroke-width="2.8" stroke-linecap="butt"/>
<rect x="487.73" y="930.39" width="23.58" height="195.61" fill="#7f7f7f" stroke="#000" stroke-width="3.7"/>
<text x="464.15" y="1173.00" font-size="30.2" text-anchor="middle" font-weight="bold">humerus</text>
<line x1="558.48" y1="929.18" x2="558.48" y2="923.12" stroke="#000" stroke-width="2.2" stroke-linecap="butt"/>
<line x1="554.28" y1="923.12" x2="562.68" y2="923.12" stroke="#000" stroke-width="2.8" stroke-linecap="butt"/>
<rect x="546.69" y="929.18" width="23.58" height="196.82" fill="#d9d9d9" stroke="#000" stroke-width="3.7"/>
<line x1="582.06" y1="934.20" x2="582.06" y2="932.12" stroke="#000" stroke-width="2.2" stroke-linecap="butt"/>
<line x1="577.86" y1="932.12" x2="586.26" y2="932.12" stroke="#000" stroke-width="2.8" stroke-linecap="butt"/>
<rect x="570.27" y="934.20" width="23.58" height="191.80" fill="#ffffff" stroke="#000" stroke-width="3.7"/>
<line x1="605.64" y1="944.25" x2="605.64" y2="942.52" stroke="#000" stroke-width="2.2" stroke-linecap="butt"/>
<line x1="601.44" y1="942.52" x2="609.84" y2="942.52" stroke="#000" stroke-width="2.8" stroke-linecap="butt"/>
<rect x="593.85" y="944.25" width="23.58" height="181.75" fill="#000000" stroke="#000" stroke-width="3.7"/>
<line x1="629.22" y1="937.67" x2="629.22" y2="935.59" stroke="#000" stroke-width="2.2" stroke-linecap="butt"/>
<line x1="625.02" y1="935.59" x2="633.42" y2="935.59" stroke="#000" stroke-width="2.8" stroke-linecap="butt"/>
<rect x="617.43" y="937.67" width="23.58" height="188.33" fill="#7f7f7f" stroke="#000" stroke-width="3.7"/>
<text x="593.85" y="1173.00" font-size="30.2" text-anchor="middle" font-weight="bold">radius</text>
<line x1="688.18" y1="886.74" x2="688.18" y2="885.35" stroke="#000" stroke-width="2.2" stroke-linecap="butt"/>
<line x1="683.98" y1="885.35" x2="692.38" y2="885.35" stroke="#000" stroke-width="2.8" stroke-linecap="butt"/>
<rect x="676.39" y="886.74" width="23.58" height="239.26" fill="#d9d9d9" stroke="#000" stroke-width="3.7"/>
<line x1="711.76" y1="894.88" x2="711.76" y2="891.07" stroke="#000" stroke-width="2.2" stroke-linecap="butt"/>
<line x1="707.56" y1="891.07" x2="715.96" y2="891.07" stroke="#000" stroke-width="2.8" stroke-linecap="butt"/>
<rect x="699.97" y="894.88" width="23.58" height="231.12" fill="#ffffff" stroke="#000" stroke-width="3.7"/>
<line x1="735.34" y1="902.67" x2="735.34" y2="900.60" stroke="#000" stroke-width="2.2" stroke-linecap="butt"/>
<line x1="731.14" y1="900.60" x2="739.54" y2="900.60" stroke="#000" stroke-width="2.8" stroke-linecap="butt"/>
<rect x="723.55" y="902.67" width="23.58" height="223.33" fill="#000000" stroke="#000" stroke-width="3.7"/>
<line x1="758.92" y1="896.96" x2="758.92" y2="893.84" stroke="#000" stroke-width="2.2" stroke-linecap="butt"/>
<line x1="754.72" y1="893.84" x2="763.12" y2="893.84" stroke="#000" stroke-width="2.8" stroke-linecap="butt"/>
<rect x="747.13" y="896.96" width="23.58" height="229.04" fill="#7f7f7f" stroke="#000" stroke-width="3.7"/>
<text x="723.55" y="1173.00" font-size="30.2" text-anchor="middle" font-weight="bold">ulna</text>
<line x1="817.88" y1="846.37" x2="817.88" y2="843.77" stroke="#000" stroke-width="2.2" stroke-linecap="butt"/>
<line x1="813.68" y1="843.77" x2="822.08" y2="843.77" stroke="#000" stroke-width="2.8" stroke-linecap="butt"/>
<rect x="806.09" y="846.37" width="23.58" height="279.63" fill="#d9d9d9" stroke="#000" stroke-width="3.7"/>
<line x1="841.46" y1="869.59" x2="841.46" y2="863.87" stroke="#000" stroke-width="2.2" stroke-linecap="butt"/>
<line x1="837.26" y1="863.87" x2="845.66" y2="863.87" stroke="#000" stroke-width="2.8" stroke-linecap="butt"/>
<rect x="829.67" y="869.59" width="23.58" height="256.41" fill="#ffffff" stroke="#000" stroke-width="3.7"/>
<line x1="865.04" y1="896.44" x2="865.04" y2="891.59" stroke="#000" stroke-width="2.2" stroke-linecap="butt"/>
<line x1="860.84" y1="891.59" x2="869.24" y2="891.59" stroke="#000" stroke-width="2.8" stroke-linecap="butt"/>
<rect x="853.25" y="896.44" width="23.58" height="229.56" fill="#000000" stroke="#000" stroke-width="3.7"/>
<line x1="888.62" y1="870.97" x2="888.62" y2="867.51" stroke="#000" stroke-width="2.2" stroke-linecap="butt"/>
<line x1="884.42" y1="867.51" x2="892.82" y2="867.51" stroke="#000" stroke-width="2.8" stroke-linecap="butt"/>
<rect x="876.83" y="870.97" width="23.58" height="255.03" fill="#7f7f7f" stroke="#000" stroke-width="3.7"/>
<text x="853.25" y="1173.00" font-size="30.2" text-anchor="middle" font-weight="bold">femur</text>
<line x1="947.58" y1="816.75" x2="947.58" y2="815.01" stroke="#000" stroke-width="2.2" stroke-linecap="butt"/>
<line x1="943.38" y1="815.01" x2="951.78" y2="815.01" stroke="#000" stroke-width="2.8" stroke-linecap="butt"/>
<rect x="935.79" y="816.75" width="23.58" height="309.25" fill="#d9d9d9" stroke="#000" stroke-width="3.7"/>
<line x1="971.16" y1="829.39" x2="971.16" y2="827.66" stroke="#000" stroke-width="2.2" stroke-linecap="butt"/>
<line x1="966.96" y1="827.66" x2="975.36" y2="827.66" stroke="#000" stroke-width="2.8" stroke-linecap="butt"/>
<rect x="959.37" y="829.39" width="23.58" height="296.61" fill="#ffffff" stroke="#000" stroke-width="3.7"/>
<line x1="994.74" y1="842.91" x2="994.74" y2="838.58" stroke="#000" stroke-width="2.2" stroke-linecap="butt"/>
<line x1="990.54" y1="838.58" x2="998.94" y2="838.58" stroke="#000" stroke-width="2.8" stroke-linecap="butt"/>
<rect x="982.95" y="842.91" width="23.58" height="283.09" fill="#000000" stroke="#000" stroke-width="3.7"/>
<line x1="1018.32" y1="837.71" x2="1018.32" y2="835.63" stroke="#000" stroke-width="2.2" stroke-linecap="butt"/>
<line x1="1014.12" y1="835.63" x2="1022.52" y2="835.63" stroke="#000" stroke-width="2.8" stroke-linecap="butt"/>
<rect x="1006.53" y="837.71" width="23.58" height="288.29" fill="#7f7f7f" stroke="#000" stroke-width="3.7"/>
<text x="982.95" y="1173.00" font-size="30.2" text-anchor="middle" font-weight="bold">tibia</text>
<line x1="1077.28" y1="844.64" x2="1077.28" y2="842.91" stroke="#000" stroke-width="2.2" stroke-linecap="butt"/>
<line x1="1073.08" y1="842.91" x2="1081.48" y2="842.91" stroke="#000" stroke-width="2.8" stroke-linecap="butt"/>
<rect x="1065.49" y="844.64" width="23.58" height="281.36" fill="#d9d9d9" stroke="#000" stroke-width="3.7"/>
<line x1="1100.86" y1="853.13" x2="1100.86" y2="851.05" stroke="#000" stroke-width="2.2" stroke-linecap="butt"/>
<line x1="1096.66" y1="851.05" x2="1105.06" y2="851.05" stroke="#000" stroke-width="2.8" stroke-linecap="butt"/>
<rect x="1089.07" y="853.13" width="23.58" height="272.87" fill="#ffffff" stroke="#000" stroke-width="3.7"/>
<line x1="1124.44" y1="867.68" x2="1124.44" y2="862.48" stroke="#000" stroke-width="2.2" stroke-linecap="butt"/>
<line x1="1120.24" y1="862.48" x2="1128.64" y2="862.48" stroke="#000" stroke-width="2.8" stroke-linecap="butt"/>
<rect x="1112.65" y="867.68" width="23.58" height="258.32" fill="#000000" stroke="#000" stroke-width="3.7"/>
<line x1="1148.02" y1="859.88" x2="1148.02" y2="857.80" stroke="#000" stroke-width="2.2" stroke-linecap="butt"/>
<line x1="1143.82" y1="857.80" x2="1152.22" y2="857.80" stroke="#000" stroke-width="2.8" stroke-linecap="butt"/>
<rect x="1136.23" y="859.88" width="23.58" height="266.12" fill="#7f7f7f" stroke="#000" stroke-width="3.7"/>
<text x="1112.65" y="1173.00" font-size="30.2" text-anchor="middle" font-weight="bold">fibula</text>
<line x1="1206.98" y1="833.90" x2="1206.98" y2="832.51" stroke="#000" stroke-width="2.2" stroke-linecap="butt"/>
<line x1="1202.78" y1="832.51" x2="1211.18" y2="832.51" stroke="#000" stroke-width="2.8" stroke-linecap="butt"/>
<rect x="1195.19" y="833.90" width="23.58" height="292.10" fill="#d9d9d9" stroke="#000" stroke-width="3.7"/>
<line x1="1230.56" y1="854.51" x2="1230.56" y2="850.18" stroke="#000" stroke-width="2.2" stroke-linecap="butt"/>
<line x1="1226.36" y1="850.18" x2="1234.76" y2="850.18" stroke="#000" stroke-width="2.8" stroke-linecap="butt"/>
<rect x="1218.77" y="854.51" width="23.58" height="271.49" fill="#ffffff" stroke="#000" stroke-width="3.7"/>
<line x1="1254.14" y1="870.80" x2="1254.14" y2="869.07" stroke="#000" stroke-width="2.2" stroke-linecap="butt"/>
<line x1="1249.94" y1="869.07" x2="1258.34" y2="869.07" stroke="#000" stroke-width="2.8" stroke-linecap="butt"/>
<rect x="1242.35" y="870.80" width="23.58" height="255.20" fill="#000000" stroke="#000" stroke-width="3.7"/>
<line x1="1277.72" y1="855.73" x2="1277.72" y2="853.13" stroke="#000" stroke-width="2.2" stroke-linecap="butt"/>
<line x1="1273.52" y1="853.13" x2="1281.92" y2="853.13" stroke="#000" stroke-width="2.8" stroke-linecap="butt"/>
<rect x="1265.93" y="855.73" width="23.58" height="270.27" fill="#7f7f7f" stroke="#000" stroke-width="3.7"/>
<text x="1242.35" y="1173.00" font-size="30.2" text-anchor="middle" font-weight="bold">lumbar</text>
<line x1="139.90" y1="691.45" x2="139.90" y2="1128.45" stroke="#000" stroke-width="3.7" stroke-linecap="butt"/>
<line x1="130.90" y1="1126.50" x2="1307.20" y2="1126.50" stroke="#000" stroke-width="3.7" stroke-linecap="butt"/>
<line x1="130.90" y1="693.40" x2="139.90" y2="693.40" stroke="#000" stroke-width="3.7" stroke-linecap="butt"/>
<text x="114.40" y="704.00" font-size="30.5" text-anchor="end">25</text>
<line x1="130.90" y1="780.02" x2="139.90" y2="780.02" stroke="#000" stroke-width="3.7" stroke-linecap="butt"/>
<text x="114.40" y="790.62" font-size="30.5" text-anchor="end">20</text>
<line x1="130.90" y1="866.64" x2="139.90" y2="866.64" stroke="#000" stroke-width="3.7" stroke-linecap="butt"/>
<text x="114.40" y="877.24" font-size="30.5" text-anchor="end">15</text>
<line x1="130.90" y1="953.26" x2="139.90" y2="953.26" stroke="#000" stroke-width="3.7" stroke-linecap="butt"/>
<text x="114.40" y="963.86" font-size="30.5" text-anchor="end">10</text>
<line x1="130.90" y1="1039.88" x2="139.90" y2="1039.88" stroke="#000" stroke-width="3.7" stroke-linecap="butt"/>
<text x="114.40" y="1050.48" font-size="30.5" text-anchor="end">5</text>
<text x="114.40" y="1137.10" font-size="30.5" text-anchor="end">0</text>
<text x="68.00" y="910.00" font-size="33.8" text-anchor="middle" font-weight="bold" transform="rotate(-90 68.00 910.00)">Length (mm)</text>
<rect x="894.35" y="686.95" width="13.1" height="13.1" fill="#d9d9d9" stroke="#000" stroke-width="3.7" stroke-linejoin="round"/>
<text x="913.50" y="702.10" font-size="26.3" text-anchor="start">CNP/vehicle</text>
<rect x="1100.15" y="686.95" width="13.1" height="13.1" fill="#ffffff" stroke="#000" stroke-width="3.7" stroke-linejoin="round"/>
<text x="1120.00" y="702.10" font-size="26.3" text-anchor="start">vehicle/vehicle</text>
<rect x="894.35" y="735.15" width="13.1" height="13.1" fill="#000000" stroke="#000" stroke-width="3.7" stroke-linejoin="round"/>
<text x="913.50" y="750.30" font-size="26.3" text-anchor="start">vehicle/DEX</text>
<rect x="1100.15" y="735.15" width="13.1" height="13.1" fill="#7f7f7f" stroke="#000" stroke-width="3.7" stroke-linejoin="round"/>
<text x="1120.00" y="750.30" font-size="26.3" text-anchor="start">CNP/DEX</text>
<text x="431.30" y="905.20" font-size="28" text-anchor="middle">†</text>
<text x="452.70" y="909.90" font-size="28" text-anchor="middle">†</text>
<text x="474.80" y="930.24" font-size="23.5" text-anchor="middle">*</text>
<text x="559.50" y="911.30" font-size="28" text-anchor="middle">†</text>
<text x="689.80" y="870.70" font-size="28" text-anchor="middle">†</text>
<text x="811.60" y="830.94" font-size="23.5" text-anchor="middle">*</text>
<text x="822.60" y="825.40" font-size="28" text-anchor="middle">†</text>
<text x="841.60" y="845.50" font-size="28" text-anchor="middle">†</text>
<text x="865.40" y="885.94" font-size="23.5" text-anchor="middle">*</text>
<text x="939.00" y="803.44" font-size="23.5" text-anchor="middle">*</text>
<text x="949.40" y="798.20" font-size="28" text-anchor="middle">†</text>
<text x="970.90" y="813.60" font-size="28" text-anchor="middle">†</text>
<text x="995.20" y="836.64" font-size="23.5" text-anchor="middle">*</text>
<text x="1077.20" y="824.00" font-size="28" text-anchor="middle">†</text>
<text x="1100.20" y="834.20" font-size="28" text-anchor="middle">†</text>
<text x="1124.40" y="859.44" font-size="23.5" text-anchor="middle">*</text>
<text x="1198.50" y="820.44" font-size="23.5" text-anchor="middle">*</text>
<text x="1208.80" y="815.60" font-size="28" text-anchor="middle">†</text>
<text x="1229.80" y="835.70" font-size="28" text-anchor="middle">†</text>
<text x="1255.00" y="867.14" font-size="23.5" text-anchor="middle">*</text>
<text x="613.00" y="1272.40" font-size="26.0" text-anchor="start">*: P &lt; 0.05 v.s. vehicle/vehicle</text>
<text x="990.00" y="1271.40" font-size="26.0" text-anchor="start">†: P &lt; 0.05 v.s. vehicle/DEX</text>
<text transform="translate(2.26 687.12) scale(0.821 1)" font-size="38.70" font-weight="bold">c</text>
</g>
<g id="panel-d">
<line x1="1636.40" y1="153.90" x2="1636.40" y2="133.70" stroke="#000" stroke-width="2.5" stroke-linecap="butt"/>
<line x1="1632.00" y1="133.70" x2="1640.80" y2="133.70" stroke="#000" stroke-width="2.8" stroke-linecap="butt"/>
<rect x="1614.40" y="153.90" width="44.00" height="310.00" fill="#fff" stroke="#000" stroke-width="3.7"/>
<line x1="1781.50" y1="252.40" x2="1781.50" y2="239.50" stroke="#000" stroke-width="2.5" stroke-linecap="butt"/>
<line x1="1777.10" y1="239.50" x2="1785.90" y2="239.50" stroke="#000" stroke-width="2.8" stroke-linecap="butt"/>
<rect x="1759.80" y="252.40" width="43.40" height="211.50" fill="#fff" stroke="#000" stroke-width="3.7"/>
<line x1="1564.40" y1="89.75" x2="1564.40" y2="466.35" stroke="#000" stroke-width="3.9" stroke-linecap="butt"/>
<line x1="1555.30" y1="464.40" x2="1852.40" y2="464.40" stroke="#000" stroke-width="3.9" stroke-linecap="butt"/>
<line x1="1555.30" y1="91.70" x2="1564.40" y2="91.70" stroke="#000" stroke-width="3.9" stroke-linecap="butt"/>
<text x="1531.10" y="102.30" font-size="30.5" text-anchor="end">1.2</text>
<line x1="1555.30" y1="153.82" x2="1564.40" y2="153.82" stroke="#000" stroke-width="3.9" stroke-linecap="butt"/>
<text x="1531.10" y="164.42" font-size="30.5" text-anchor="end">1.0</text>
<line x1="1555.30" y1="215.93" x2="1564.40" y2="215.93" stroke="#000" stroke-width="3.9" stroke-linecap="butt"/>
<text x="1531.10" y="226.53" font-size="30.5" text-anchor="end">0.8</text>
<line x1="1555.30" y1="278.05" x2="1564.40" y2="278.05" stroke="#000" stroke-width="3.9" stroke-linecap="butt"/>
<text x="1531.10" y="288.65" font-size="30.5" text-anchor="end">0.6</text>
<line x1="1555.30" y1="340.17" x2="1564.40" y2="340.17" stroke="#000" stroke-width="3.9" stroke-linecap="butt"/>
<text x="1531.10" y="350.77" font-size="30.5" text-anchor="end">0.4</text>
<line x1="1555.30" y1="402.28" x2="1564.40" y2="402.28" stroke="#000" stroke-width="3.9" stroke-linecap="butt"/>
<text x="1531.10" y="412.88" font-size="30.5" text-anchor="end">0.2</text>
<text x="1531.10" y="475.00" font-size="30.5" text-anchor="end">0.0</text>
<text x="1636.40" y="510.60" font-size="30.5" text-anchor="middle">4</text>
<text x="1781.50" y="510.60" font-size="30.5" text-anchor="middle">5</text>
<text x="1708.95" y="553.40" font-size="33.8" text-anchor="middle" font-weight="bold">Age (weeks)</text>
<line x1="1632.50" y1="111.00" x2="1776.80" y2="111.00" stroke="#000" stroke-width="4.0" stroke-linecap="butt"/>
<text x="1704.60" y="100.04" font-size="26" text-anchor="middle">‡</text>
<text x="1672.30" y="30.00" font-size="33.8" text-anchor="middle" font-weight="bold">Lumbar vertebrae</text>
<text x="1437.20" y="275.30" font-size="33.8" text-anchor="middle" font-weight="bold" transform="rotate(-90 1437.20 275.30)">Relative Nr3c1 mRNA</text>
<text x="1476.60" y="277.50" font-size="33.8" text-anchor="middle" font-weight="bold" transform="rotate(-90 1476.60 277.50)">expression</text>
<text x="1881.00" y="597.80" font-size="26.3" text-anchor="end">‡: P &lt; 0.05</text>
<text transform="translate(1380.70 31.19) scale(0.923 1)" font-size="42.35" font-weight="bold">d</text>
</g>
<g id="panel-e">
<line x1="1642.70" y1="839.90" x2="1642.70" y2="819.60" stroke="#000" stroke-width="2.5" stroke-linecap="butt"/>
<line x1="1638.30" y1="819.60" x2="1647.10" y2="819.60" stroke="#000" stroke-width="2.8" stroke-linecap="butt"/>
<rect x="1620.00" y="839.90" width="45.40" height="287.60" fill="#fff" stroke="#000" stroke-width="3.7"/>
<line x1="1786.85" y1="969.80" x2="1786.85" y2="957.00" stroke="#000" stroke-width="2.5" stroke-linecap="butt"/>
<line x1="1782.45" y1="957.00" x2="1791.25" y2="957.00" stroke="#000" stroke-width="2.8" stroke-linecap="butt"/>
<rect x="1764.00" y="969.80" width="45.70" height="157.70" fill="#fff" stroke="#000" stroke-width="3.7"/>
<line x1="1570.40" y1="749.15" x2="1570.40" y2="1129.95" stroke="#000" stroke-width="3.9" stroke-linecap="butt"/>
<line x1="1561.80" y1="1128.00" x2="1859.10" y2="1128.00" stroke="#000" stroke-width="3.9" stroke-linecap="butt"/>
<line x1="1561.80" y1="751.10" x2="1570.40" y2="751.10" stroke="#000" stroke-width="3.9" stroke-linecap="butt"/>
<text x="1537.10" y="761.70" font-size="30.5" text-anchor="end">1.4</text>
<line x1="1561.80" y1="804.94" x2="1570.40" y2="804.94" stroke="#000" stroke-width="3.9" stroke-linecap="butt"/>
<text x="1537.10" y="815.54" font-size="30.5" text-anchor="end">1.2</text>
<line x1="1561.80" y1="858.79" x2="1570.40" y2="858.79" stroke="#000" stroke-width="3.9" stroke-linecap="butt"/>
<text x="1537.10" y="869.39" font-size="30.5" text-anchor="end">1.0</text>
<line x1="1561.80" y1="912.63" x2="1570.40" y2="912.63" stroke="#000" stroke-width="3.9" stroke-linecap="butt"/>
<text x="1537.10" y="923.23" font-size="30.5" text-anchor="end">0.8</text>
<line x1="1561.80" y1="966.47" x2="1570.40" y2="966.47" stroke="#000" stroke-width="3.9" stroke-linecap="butt"/>
<text x="1537.10" y="977.07" font-size="30.5" text-anchor="end">0.6</text>
<line x1="1561.80" y1="1020.31" x2="1570.40" y2="1020.31" stroke="#000" stroke-width="3.9" stroke-linecap="butt"/>
<text x="1537.10" y="1030.91" font-size="30.5" text-anchor="end">0.4</text>
<line x1="1561.80" y1="1074.16" x2="1570.40" y2="1074.16" stroke="#000" stroke-width="3.9" stroke-linecap="butt"/>
<text x="1537.10" y="1084.76" font-size="30.5" text-anchor="end">0.2</text>
<text x="1537.10" y="1138.60" font-size="30.5" text-anchor="end">0.0</text>
<text x="1642.70" y="1174.20" font-size="30.5" text-anchor="middle">4</text>
<text x="1786.85" y="1174.20" font-size="30.5" text-anchor="middle">5</text>
<text x="1714.77" y="1217.00" font-size="33.8" text-anchor="middle" font-weight="bold">Age (weeks)</text>
<line x1="1646.60" y1="802.70" x2="1791.00" y2="802.70" stroke="#000" stroke-width="4.0" stroke-linecap="butt"/>
<text x="1719.30" y="788.94" font-size="26" text-anchor="middle">‡</text>
<text x="1651.20" y="698.90" font-size="33.8" text-anchor="middle" font-weight="bold">Costal cartilages</text>
<text x="1441.00" y="938.20" font-size="33.8" text-anchor="middle" font-weight="bold" transform="rotate(-90 1441.00 938.20)">Relative Nrsc1 mRNA</text>
<text x="1481.00" y="940.60" font-size="33.8" text-anchor="middle" font-weight="bold" transform="rotate(-90 1481.00 940.60)">expresion</text>
<text x="1894.50" y="1269.80" font-size="26.3" text-anchor="end">‡: P &lt; 0.05</text>
<text transform="translate(1386.43 701.50) scale(0.987 1)" font-size="40.70" font-weight="bold">e</text>
</g>
</svg></body></html>
